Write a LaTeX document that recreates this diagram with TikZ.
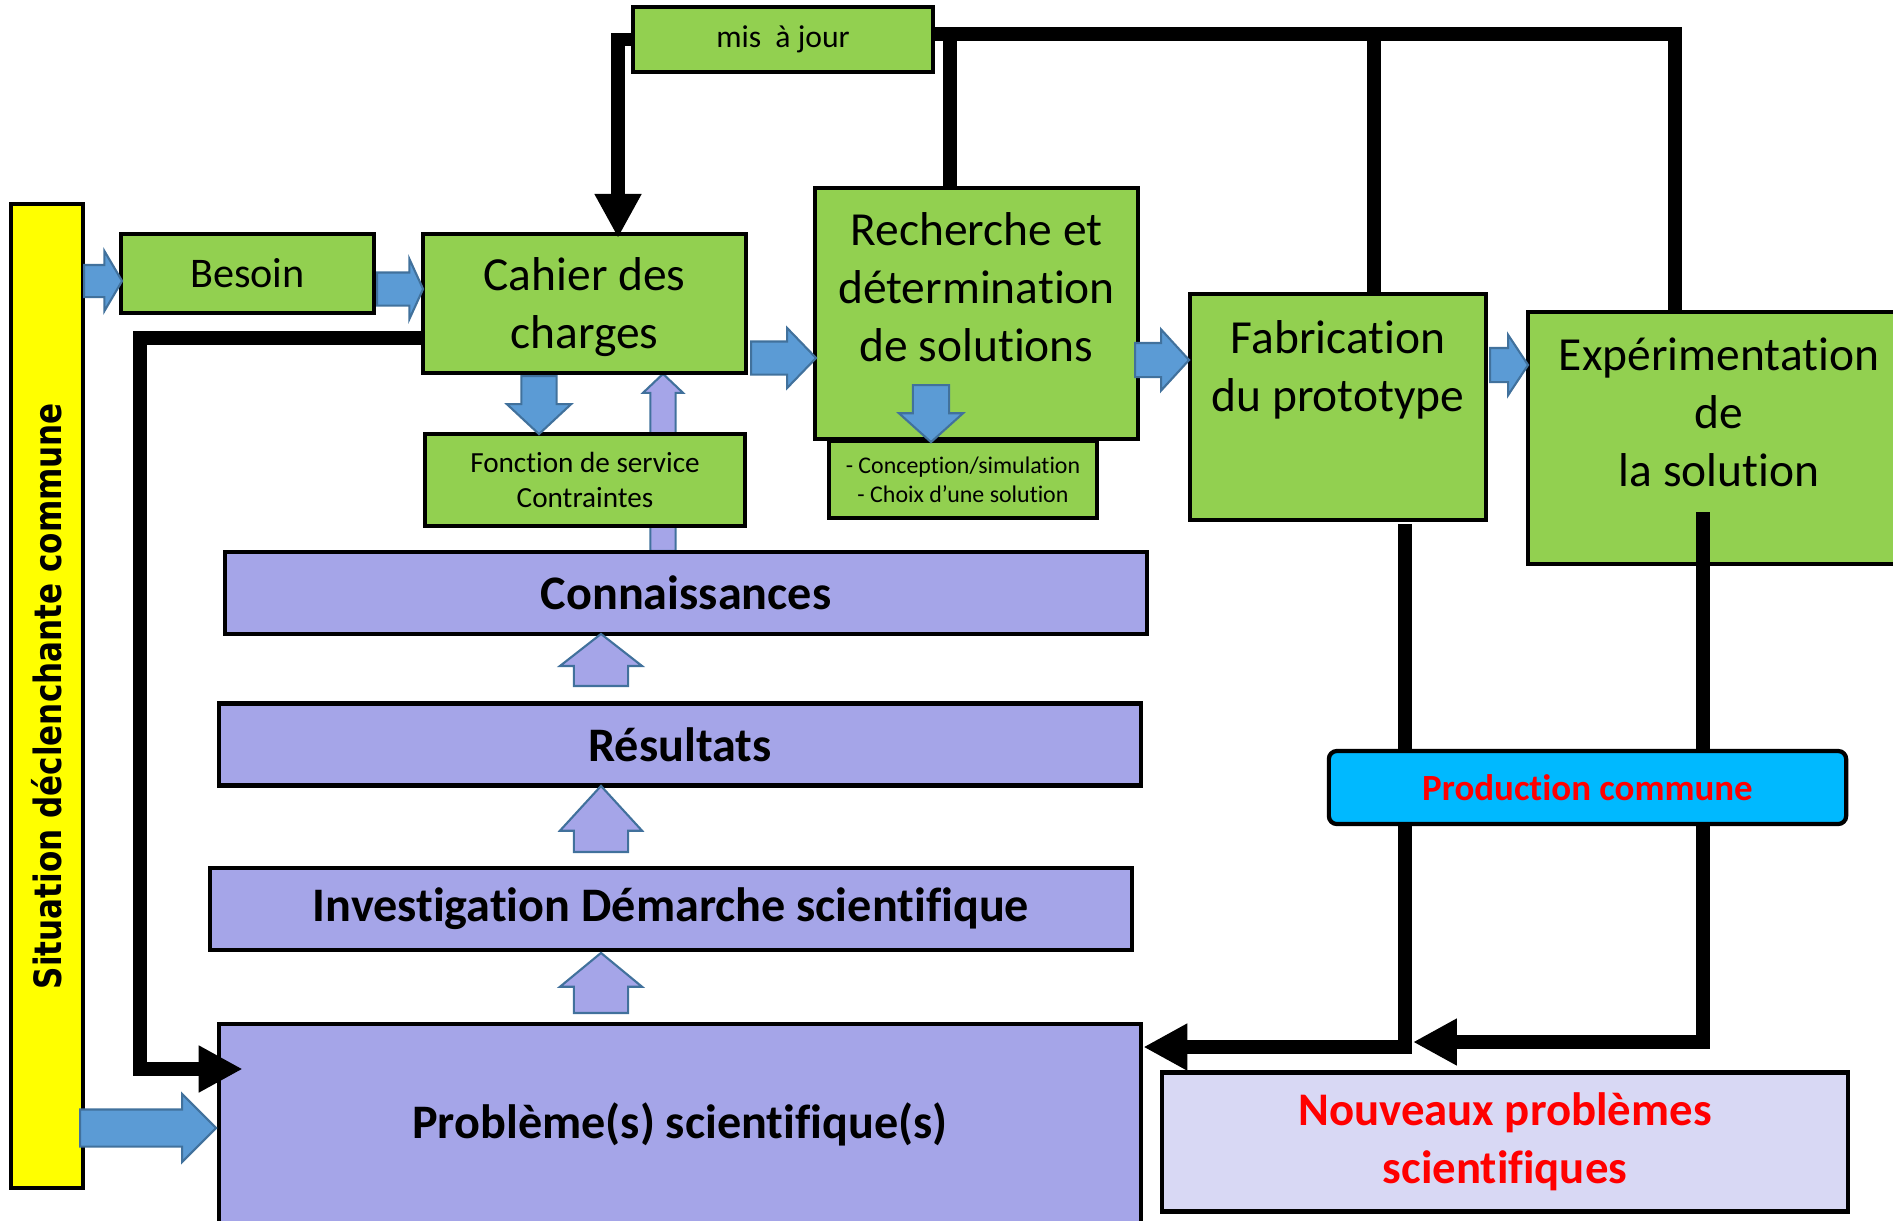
\documentclass[tikz,border=0pt]{standalone}
\usepackage{fontspec}
\setmainfont{Carlito}[Ligatures=NoCommon]
\newfontfamily\sitfont{DejaVu Sans}
\usepackage{graphicx}
\usepackage{xcolor}
\usetikzlibrary{arrows.meta,shapes.arrows,positioning}

\definecolor{vert}{RGB}{146,208,80}
\definecolor{mauve}{RGB}{165,165,232}
\definecolor{mauveclair}{RGB}{216,216,244}
\definecolor{bleuflux}{RGB}{91,155,213}
\definecolor{bleubord}{RGB}{65,113,156}
\definecolor{cyanprod}{RGB}{0,185,255}
\definecolor{jaune}{RGB}{255,255,0}

\begin{document}
\begin{tikzpicture}[x=0.01cm, y=-0.01cm,
    vbox/.style={draw, line width=1.2pt, fill=vert, align=center, inner sep=0pt},
    mbox/.style={draw, line width=1.2pt, fill=mauve, align=center, inner sep=0pt,
                 font=\bfseries\fontsize{13.7}{16}\selectfont,
                 minimum width=9.22cm, minimum height=0.82cm},
    big/.style={align=center, font=\fontsize{13.5}{16.5}\selectfont},
    flux/.style={single arrow, draw=bleubord, fill=bleuflux, line width=0.6pt, anchor=tail,
                 inner xsep=0pt, single arrow head indent=0pt},
    fluxm/.style={flux, fill=mauve},
    lien/.style={line width=3.8pt, line join=miter},
    lienfl/.style={lien, -{Triangle[length=12.5pt,width=12.5pt]}},
  ]
    \useasboundingbox (0,0) rectangle (1893,1220);

    \node[vbox, fill=jaune, rotate=90, minimum width=9.84cm, minimum height=0.72cm,
          font=\sitfont\bfseries\fontsize{10.7}{12}\selectfont] (sit) at (47,696)
          {\scalebox{0.825}[1]{Situation déclenchante commune}};

    \node[fluxm, rotate=90, minimum height=1.77cm, inner ysep=0.115cm,
          single arrow head extend=0.075cm, single arrow tip angle=93] (fm0) at (663,552) {};

    \node[vbox, minimum width=2.53cm, minimum height=0.79cm, font=\fontsize{12}{14}\selectfont] (besoin) at (247.5,273.5) {Besoin};
    \node[vbox, minimum width=3.23cm, minimum height=1.39cm] (cahier) at (584.5,303.5) {};
    \node[big] (cahiertxt) at ([yshift=-0.04cm]cahier.center) {Cahier des\\charges};
    \node[vbox, minimum width=3.2cm, minimum height=0.92cm, font=\fontsize{8.3}{10}\selectfont] (fonction) at (585,480) {Fonction de service\\Contraintes};
    \node[vbox, minimum width=3cm, minimum height=0.65cm, font=\fontsize{9}{11}\selectfont] (maj) at (783,39.5) {mis~~à jour};

    \node[vbox, minimum width=3.23cm, minimum height=2.51cm] (rech) at (976.5,313.5) {};
    \node[big] (rechtxt) at ([yshift=0.265cm]rech.center) {Recherche et\\détermination\\de solutions};
    \node[vbox, minimum width=2.68cm, minimum height=0.77cm, font=\fontsize{6.8}{8.2}\selectfont] (concep) at (963,479.5) {- Conception/simulation\\- Choix d’une solution};
    \node[vbox, minimum width=2.96cm, minimum height=2.26cm] (fab) at (1338,407) {};
    \node[big] (fabtxt) at ([yshift=0.37cm]fab.center) {Fabrication\\du prototype};
    \node[vbox, minimum width=3.82cm, minimum height=2.52cm] (exp) at (1719,438) {};
    \node[big] (exptxt) at ([yshift=0.26cm]exp.center) {Expérimentation\\de\\la solution};

    \node[mbox] (conn) at (686,593) {Connaissances};
    \node[mbox] (res) at (680,744.5) {Résultats};
    \node[mbox] (inv) at (671,909) {Investigation Démarche scientifique};
    \node[mbox, minimum height=2cm] (prob) at (680,1124) {Problème(s) scientifique(s)};
    \node[vbox, fill=mauveclair, minimum width=6.86cm, minimum height=1.39cm, text=red,
          font=\bfseries\fontsize{13.3}{16.5}\selectfont] (nouv) at (1505,1142) {Nouveaux problèmes\\scientifiques};

    \node[flux, minimum height=0.38cm, inner ysep=0.15cm, single arrow head extend=0.14cm, single arrow tip angle=119] (f1) at (83,281) {};
    \node[flux, minimum height=0.46cm, inner ysep=0.155cm, single arrow head extend=0.135cm, single arrow tip angle=131] (f2) at (376,289) {};
    \node[flux, minimum height=0.65cm, inner ysep=0.155cm, single arrow head extend=0.135cm, single arrow tip angle=92] (f3) at (750,358) {};
    \node[flux, minimum height=0.54cm, inner ysep=0.16cm, single arrow head extend=0.135cm, single arrow tip angle=95] (f4) at (1134,360) {};
    \node[flux, minimum height=0.38cm, inner ysep=0.16cm, single arrow head extend=0.13cm, single arrow tip angle=113] (f5) at (1489,365) {};
    \node[flux, rotate=-90, minimum height=0.58cm, inner ysep=0.165cm, single arrow head extend=0.145cm, single arrow tip angle=94] (f6) at (539,375) {};
    \node[flux, rotate=-90, minimum height=0.57cm, inner ysep=0.17cm, single arrow head extend=0.14cm, single arrow tip angle=96] (f7) at (931,384) {};
    \node[flux, minimum height=1.36cm, inner ysep=0.175cm, single arrow head extend=0.155cm, single arrow tip angle=90] (f8) at (79,1128) {};
    \node[fluxm, rotate=90, minimum height=0.52cm, inner ysep=0.26cm, single arrow head extend=0.14cm, single arrow tip angle=104] (m1) at (601,687) {};
    \node[fluxm, rotate=90, minimum height=0.66cm, inner ysep=0.26cm, single arrow head extend=0.14cm, single arrow tip angle=85] (m2) at (601,853) {};
    \node[fluxm, rotate=90, minimum height=0.6cm, inner ysep=0.26cm, single arrow head extend=0.14cm, single arrow tip angle=101] (m3) at (601,1014) {};

    \coordinate (jr) at (950,34);
    \coordinate (jf) at (1374,34);
    \coordinate (ret) at (140,1069);
    \coordinate (fo) at (1405,524);
    \coordinate (fk) at (1405,1047);
    \coordinate (eo) at (1703,512);
    \coordinate (ek) at (1703,1042);
    \coordinate (ekt) at (1413,1042);

    \draw[lienfl] (maj.west) -| ([xshift=0.335cm, yshift=-0.06cm]cahier.north);
    \draw[lien] ([yshift=0.055cm]maj.east) -| ([xshift=-0.44cm]exp.north);
    \draw[lien] (jr) -- (jr |- rech.north);
    \draw[lien] (jf) -- (jf |- fab.north);
    \draw[lienfl] ([yshift=-0.345cm]cahier.west) -| (ret) -- ([xshift=0.26cm]ret -| prob.west);
    \draw[lienfl] (fo) -- (fk) -- (fk -| prob.east);
    \draw[lienfl] (eo) -- (ek) -- (ekt);

    \node[vbox, fill=cyanprod, rounded corners=0.08cm, minimum width=5.17cm, minimum height=0.73cm, text=red,
          font=\bfseries\fontsize{10.5}{12}\selectfont] (prod) at (1587.5,787.5) {Production commune};
  \end{tikzpicture}
\end{document}
